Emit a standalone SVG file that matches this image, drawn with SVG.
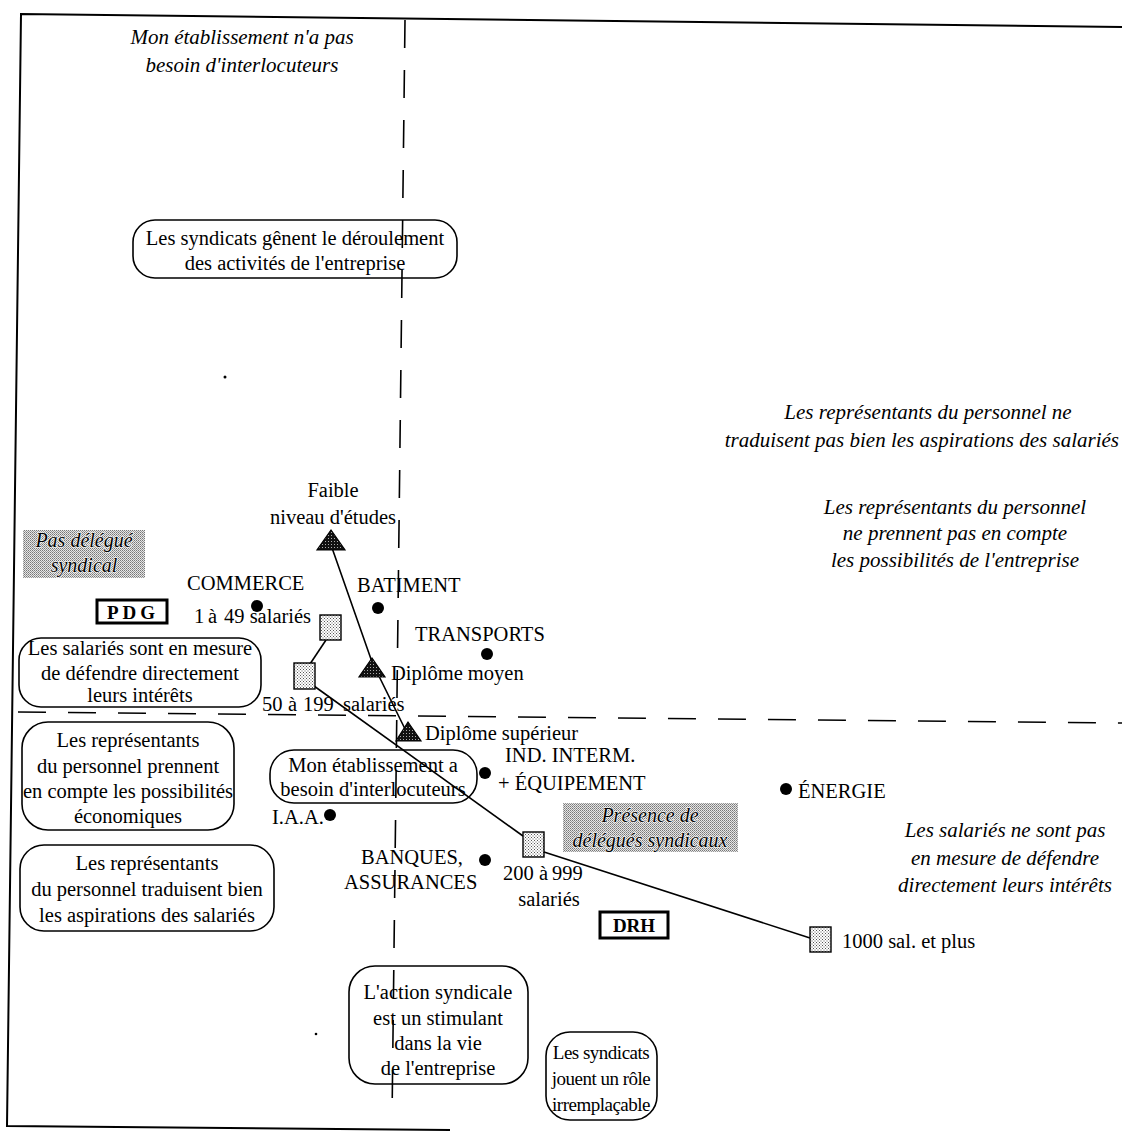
<svg xmlns="http://www.w3.org/2000/svg" width="1122" height="1134" viewBox="0 0 1122 1134">
<style>
text{font-family:"Liberation Serif","Times New Roman",serif;fill:#000}
.t{font-size:20.5px}
.s{font-size:19px;letter-spacing:-0.5px}
.c{text-anchor:middle}
.i{font-style:italic;font-size:21px}
.box{fill:none;stroke:#000;stroke-width:1.6}
.lab{fill:#fff;stroke:#000;stroke-width:3}
.b{font-weight:bold;font-size:19px}
.axis{stroke:#000;stroke-width:1.6;fill:none;stroke-dasharray:28 22}
.conn{stroke:#000;stroke-width:1.6;fill:none}
.sq{fill:url(#lite);stroke:#000;stroke-width:1.4}
.tri{fill:url(#dark);stroke:#000;stroke-width:1.2}
.shade{fill:url(#mid)}
.sh{font-style:italic;font-size:20px;paint-order:stroke;stroke:#fff;stroke-width:1.2}
</style>
<defs>
<pattern id="lite" width="3" height="3" patternUnits="userSpaceOnUse"><rect width="3" height="3" fill="#fff"/><rect width="1" height="1" fill="#555"/><rect x="1.5" y="1.5" width="1" height="1" fill="#555"/></pattern>
<pattern id="mid" width="2" height="2" patternUnits="userSpaceOnUse"><rect width="2" height="2" fill="#e6e6e6"/><rect width="1" height="1" fill="#777"/><rect x="1" y="1" width="1" height="1" fill="#999"/></pattern>
<pattern id="dark" width="3" height="3" patternUnits="userSpaceOnUse"><rect width="3" height="3" fill="#111"/><rect x="1" y="1" width="1" height="1" fill="#aaa"/></pattern>
</defs>
<rect width="1122" height="1134" fill="#fff"/>
<g id="frame" fill="none" stroke="#000" stroke-width="2">
<path d="M1122,27 L21,14 L7,1126 L450,1130"/>
</g>
<g id="axes">
<path class="axis" d="M405,20 L392,1120"/>
<path class="axis" d="M18,712 L1122,723"/>
</g>
<g id="connectors">
<path class="conn" d="M331,545 L372,662 L408,735"/>
<path class="conn" d="M326,640 L310,664"/>
<path class="conn" d="M314,686 L523,836"/>
<path class="conn" d="M544,852 L810,938"/>
</g>
<g id="q-nonbesoin"><text class="i c" x="242" y="44">Mon établissement n'a pas</text><text class="i c" x="242" y="72">besoin d'interlocuteurs</text></g>
<g id="q-genent"><rect class="box" x="133" y="220" width="324" height="58" rx="22"/><text class="t c" x="295" y="245">Les syndicats gênent le déroulement</text><text class="t c" x="295" y="270">des activités de l'entreprise</text></g>
<circle cx="225" cy="377" r="1.5" fill="#000"/>
<g id="q-netraduisent"><text class="i c" x="928" y="419">Les représentants du personnel ne</text><text class="i" x="1119" y="447" text-anchor="end" font-size="20.5">traduisent pas bien les aspirations des salariés</text></g>
<g id="q-neprennent"><text class="i c" x="955" y="514">Les représentants du personnel</text><text class="i c" x="955" y="540">ne prennent pas en compte</text><text class="i c" x="955" y="567">les possibilités de l'entreprise</text></g>
<g id="pas-delegue"><rect class="shade" x="23" y="530" width="122" height="48"/><text class="sh c" x="84" y="547">Pas délégué</text><text class="sh c" x="84" y="572">syndical</text></g>
<g id="faible"><text class="t c" x="333" y="497">Faible</text><text class="t c" x="333" y="524">niveau d'études</text><polygon class="tri" points="331,530 317,550 345,550"/></g>
<g id="commerce"><text class="t" x="187" y="590">COMMERCE</text><circle cx="257" cy="606" r="6" fill="#000"/></g>
<g id="batiment"><text class="t" x="357" y="592">BATIMENT</text><circle cx="378" cy="608" r="6" fill="#000"/></g>
<g id="transports"><text class="t" x="415" y="641">TRANSPORTS</text><circle cx="487" cy="654" r="6" fill="#000"/></g>
<g id="pdg"><rect class="lab" x="97" y="600" width="70" height="23"/><text class="b c" x="133" y="619" letter-spacing="4">PDG</text></g>
<g id="s1-49"><text class="t" y="623"><tspan x="194">1</tspan><tspan x="208">à</tspan><tspan x="224">49 salariés</tspan></text><rect class="sq" x="320" y="615" width="21" height="25"/></g>
<g id="q-salaries-mesure"><rect class="box" x="19" y="638" width="242" height="69" rx="22"/><text class="t c" x="140" y="655">Les salariés sont en mesure</text><text class="t c" x="140" y="680">de défendre directement</text><text class="t c" x="140" y="702">leurs intérêts</text></g>
<g id="s50-199"><rect class="sq" x="294" y="663" width="21" height="26"/><text class="t" y="711"><tspan x="262">50</tspan><tspan x="288">à</tspan><tspan x="303">199</tspan><tspan x="343">salariés</tspan></text></g>
<g id="dipl-moyen"><polygon class="tri" points="372,658 359,677 385,677"/><text class="t" x="391" y="680">Diplôme moyen</text></g>
<g id="dipl-sup"><polygon class="tri" points="408,722 396,741 421,741"/><text class="t" x="425" y="740">Diplôme supérieur</text></g>
<g id="q-prennent"><rect class="box" x="22" y="722" width="212" height="108" rx="26"/><text class="t c" x="128" y="747">Les représentants</text><text class="t c" x="128" y="773">du personnel prennent</text><text class="t c" x="128" y="798" font-size="20">en compte les possibilités</text><text class="t c" x="128" y="823">économiques</text></g>
<g id="q-besoin"><rect class="box" x="270" y="750" width="207" height="53" rx="24"/><text class="t c" x="373" y="772">Mon établissement a</text><text class="t c" x="373" y="796">besoin d'interlocuteurs</text></g>
<g id="ind"><circle cx="485" cy="773" r="6" fill="#000"/><text class="t" x="505" y="762">IND. INTERM.</text><text class="t" x="498" y="790">+ ÉQUIPEMENT</text></g>
<g id="energie"><circle cx="786" cy="789" r="6" fill="#000"/><text class="t" x="798" y="798">ÉNERGIE</text></g>
<g id="iaa"><text class="t" x="272" y="824">I.A.A.</text><circle cx="330" cy="815" r="6" fill="#000"/></g>
<g id="presence"><rect class="shade" x="563" y="803" width="175" height="49"/><text class="sh c" x="650" y="822">Présence de</text><text class="sh c" x="650" y="847">délégués syndicaux</text></g>
<g id="q-nesontpas"><text class="i c" x="1005" y="837">Les salariés ne sont pas</text><text class="i c" x="1005" y="865">en mesure de défendre</text><text class="i c" x="1005" y="892">directement leurs intérêts</text></g>
<g id="banques"><text class="t c" x="412" y="864">BANQUES,</text><text class="t" x="344" y="889">ASSURANCES</text><circle cx="485" cy="860" r="6" fill="#000"/></g>
<g id="s200-999"><rect class="sq" x="523" y="832" width="21" height="25"/><text class="t" y="880"><tspan x="503">200</tspan><tspan x="539">à</tspan><tspan x="552">999</tspan></text><text class="t c" x="549" y="906">salariés</text></g>
<g id="q-traduisent"><rect class="box" x="20" y="845" width="254" height="86" rx="24"/><text class="t c" x="147" y="870">Les représentants</text><text class="t c" x="147" y="896">du personnel  traduisent bien</text><text class="t c" x="147" y="922">les aspirations des salariés</text></g>
<g id="drh"><rect class="lab" x="600" y="912" width="68" height="26"/><text class="b c" x="634" y="932">DRH</text></g>
<g id="s1000"><rect class="sq" x="810" y="927" width="21" height="25"/><text class="t" x="842" y="948">1000 sal. et plus</text></g>
<g id="q-stimulant"><rect class="box" x="349" y="966" width="179" height="118" rx="26"/><text class="t c" x="438" y="999">L'action syndicale</text><text class="t c" x="438" y="1025">est un stimulant</text><text class="t c" x="438" y="1050">dans la vie</text><text class="t c" x="438" y="1075">de l'entreprise</text></g>
<g id="q-irremplacable"><rect class="box" x="546" y="1032" width="111" height="88" rx="24"/><text class="s c" x="601" y="1059">Les syndicats</text><text class="s c" x="601" y="1085">jouent un rôle</text><text class="s c" x="601" y="1111">irremplaçable</text></g>
<circle cx="316" cy="1034" r="1.3" fill="#000"/>
</svg>
